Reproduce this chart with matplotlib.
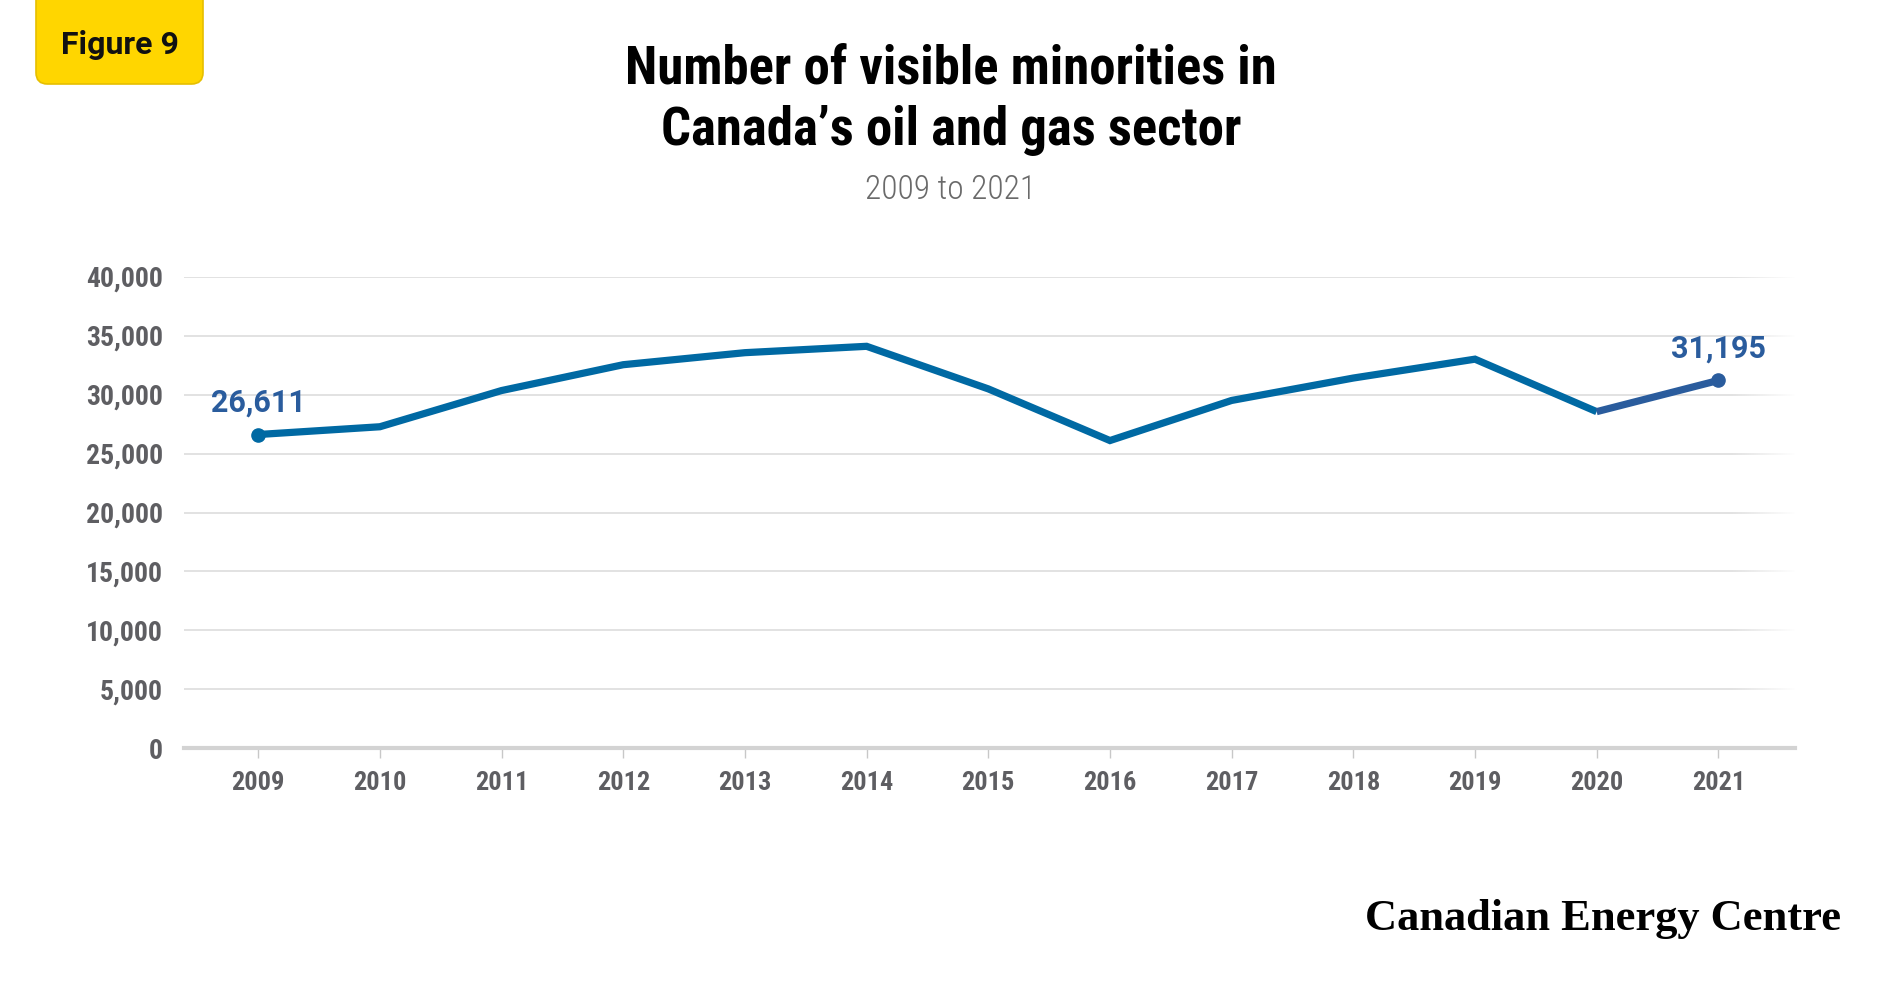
import numpy as np
import matplotlib
matplotlib.use("Agg")
import matplotlib.pyplot as plt
from matplotlib import font_manager as fm
from matplotlib.patches import FancyBboxPatch

# ---- data ----
years = [2009, 2010, 2011, 2012, 2013, 2014, 2015, 2016, 2017, 2018, 2019, 2020, 2021]
visible_minorities = [26611, 27270, 30340, 32530, 33550, 34090, 30480, 26100,
                      29500, 31400, 33000, 28550, 31195]
y_ticks = [0, 5000, 10000, 15000, 20000, 25000, 30000, 35000, 40000]
y_tick_labels = ["0", "5,000", "10,000", "15,000", "20,000", "25,000",
                 "30,000", "35,000", "40,000"]
title_lines = ["Number of visible minorities in", "Canada\u2019s oil and gas sector"]
subtitle = "2009 to 2021"
badge = "Figure 9"
brand = "Canadian Energy Centre"


def pick(cands, default="DejaVu Sans"):
    for c in cands:
        try:
            fm.findfont(fm.FontProperties(family=c), fallback_to_default=False)
            return c
        except Exception:
            pass
    return default


COND = pick(["Roboto Condensed", "Liberation Sans Narrow", "DejaVu Sans Condensed",
             "Open Sans Condensed", "Noto Sans Condensed"])
SANS = pick(["Roboto", "Liberation Sans", "Noto Sans"])
SERIF = pick(["Liberation Serif", "DejaVu Serif"], "DejaVu Serif")

LINE = "#0069a3"
LABEL = "#2a5c9d"
GREY = "#5e5e62"

fig = plt.figure(figsize=(19, 10), dpi=100)
fig.patch.set_facecolor("white")

W, H = 1900, 1000
ax = fig.add_axes([184 / W, 1 - 748.4 / H, (1795 - 184) / W, (748.4 - 276.6) / H])

ax.plot(years[:-1], visible_minorities[:-1], color=LINE, lw=5.2,
        solid_joinstyle="miter", solid_capstyle="butt", zorder=3)
ax.plot(years[-2:], visible_minorities[-2:], color=LABEL, lw=5.2,
        solid_capstyle="butt", zorder=3)
ax.plot([years[0]], [visible_minorities[0]], "o", color=LINE, ms=9.5, zorder=4)
ax.plot([years[-1]], [visible_minorities[-1]], "o", color=LABEL, ms=9.5, zorder=4)

for idx in (0, len(years) - 1):
    ax.annotate(f"{visible_minorities[idx]:,}", (years[idx], visible_minorities[idx]),
                xytext=(0, 12), textcoords="offset points", ha="center", va="bottom",
                fontsize=22, fontweight="bold", color=LABEL, family=SANS, zorder=6)

ax.set_yticks(y_ticks)
ax.set_yticklabels(y_tick_labels)
ax.set_xticks(years)
ax.set_xticklabels([str(y) for y in years])

ax.grid(axis="y", color="#e2e2e2", lw=1.4, zorder=0)
ax.set_axisbelow(True)
for s in ("top", "right", "left"):
    ax.spines[s].set_visible(False)
ax.spines["bottom"].set_color("#d3d3d3")
ax.spines["bottom"].set_linewidth(3)

ax.tick_params(axis="y", length=0, pad=15, labelsize=20, labelcolor=GREY)
ax.tick_params(axis="x", length=7, width=1, color="#c8c8c8", pad=9,
               labelsize=19, labelcolor=GREY)
for lab in ax.get_xticklabels() + ax.get_yticklabels():
    lab.set_family(COND)
    lab.set_fontweight("bold")

# fade of gridlines at right
grad = np.ones((2, 256, 4))
grad[..., 3] = np.linspace(0, 1, 256)[None, :]
ax.imshow(grad, extent=(0.96, 1.0, 0.0, 1.0), transform=ax.transAxes,
          aspect="auto", zorder=1, interpolation="bilinear")
ax.set_xlim(2008.39, 2021.63)
ax.set_ylim(0, 40000)

# titles
fig.text(951 / W, 1 - 69 / H, title_lines[0], ha="center", va="center", fontsize=38,
         fontweight=900, family=COND, color="black")
fig.text(951 / W, 1 - 131 / H, title_lines[1], ha="center", va="center", fontsize=38,
         fontweight=900, family=COND, color="black")
fig.text(951 / W, 1 - 190 / H, subtitle, ha="center", va="center", fontsize=24,
         fontweight="light", family=COND, color="#6a6a6a")

# badge
box = FancyBboxPatch((36 / W, 1 - 84 / H), 167 / W, 120 / H,
                     boxstyle="round,pad=0,rounding_size=0.006",
                     transform=fig.transFigure, facecolor="#ffd600",
                     edgecolor="#e6bf00", lw=1.2, zorder=5, mutation_aspect=1.9)
fig.patches.append(box)
fig.text(120 / W, 1 - 45 / H, badge, ha="center", va="center", fontsize=23,
         fontweight="bold", family=SANS, color="#111111", zorder=6)

# brand
fig.text(1841 / W, 1 - 930 / H, brand, ha="right", va="baseline", fontsize=32,
         fontweight="bold", family=SERIF, color="black")

fig.savefig("out.png", dpi=100, facecolor="white")
